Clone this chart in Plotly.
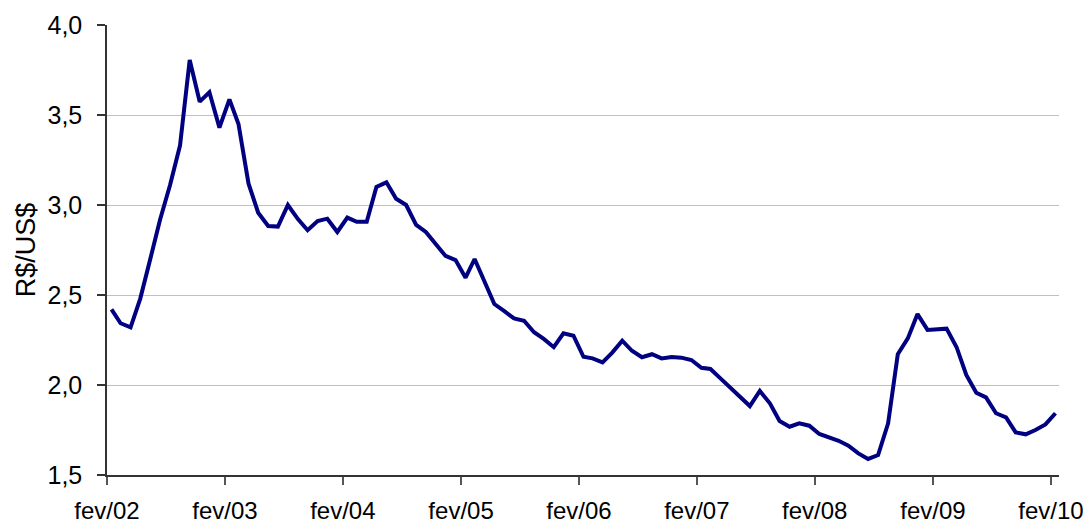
import pandas as pd
import plotly.graph_objects as go

# Monthly exchange rate R$/US$, Feb 2002 - Feb 2010
months = pd.date_range("2002-02-01", periods=97, freq="MS") + pd.Timedelta(days=14)
rate = [
    2.42, 2.343, 2.32, 2.48, 2.70, 2.917, 3.11, 3.33, 3.806, 3.574, 3.626, 3.43,
    3.587, 3.45, 3.12, 2.957, 2.883, 2.88, 3.00, 2.922, 2.86, 2.911, 2.924, 2.85,
    2.93, 2.907, 2.907, 3.10, 3.126, 3.035, 3.00, 2.889, 2.85, 2.783, 2.717, 2.694,
    2.596, 2.70, 2.578, 2.45, 2.41, 2.37, 2.357, 2.293, 2.256, 2.21, 2.287, 2.274,
    2.157, 2.148, 2.126, 2.18, 2.246, 2.19, 2.154, 2.171, 2.148, 2.156, 2.152, 2.139,
    2.096, 2.089, 2.037, 1.985, 1.935, 1.883, 1.967, 1.898, 1.80, 1.768, 1.787, 1.774,
    1.728, 1.709, 1.69, 1.663, 1.62, 1.589, 1.611, 1.787, 2.171, 2.259, 2.394, 2.306,
    2.311, 2.313, 2.21, 2.056, 1.957, 1.931, 1.843, 1.82, 1.737, 1.726, 1.75, 1.781,
    1.843,
]
tick_dates = ["2002-02-01", "2003-02-01", "2004-02-01", "2005-02-01", "2006-02-01",
              "2007-02-01", "2008-02-01", "2009-02-01", "2010-02-01"]
tick_labels = ["fev/02", "fev/03", "fev/04", "fev/05", "fev/06",
               "fev/07", "fev/08", "fev/09", "fev/10"]
y_ticks = [1.5, 2.0, 2.5, 3.0, 3.5, 4.0]

fig = go.Figure(go.Scatter(
    x=months, y=rate, mode="lines",
    line=dict(color="#000080", width=4),
    hoverinfo="skip",
))

# the page body adds an 8px offset, so margins compensate for it
fig.update_layout(
    width=1092, height=523,
    margin=dict(l=99, r=41, t=17, b=56),
    paper_bgcolor="white", plot_bgcolor="white",
    separators=",.",
    showlegend=False,
    font=dict(family="Liberation Sans, Arial, sans-serif", color="black"),
)
fig.update_xaxes(
    type="date", automargin=False,
    range=["2002-02-01", "2010-02-26"],
    tickvals=tick_dates, ticktext=tick_labels,
    ticks="outside", ticklen=8, tickcolor="#555555", tickwidth=1.5,
    showline=True, linecolor="#333333", linewidth=1.5,
    showgrid=False, zeroline=False,
    tickfont=dict(size=24),
    ticklabelstandoff=5,
)
fig.update_yaxes(
    automargin=False,
    range=[1.5, 4.0],
    tickvals=y_ticks, tickformat=".1f",
    ticks="outside", ticklen=8, tickcolor="#333333", tickwidth=1.5,
    showline=True, linecolor="#333333", linewidth=1.5,
    showgrid=True, gridcolor="#c0c0c0", gridwidth=1.3,
    zeroline=False,
    tickfont=dict(size=25),
    ticklabelstandoff=10,
    title=dict(text="R$/US$", font=dict(size=27), standoff=4),
)

fig.write_html("out.html")
